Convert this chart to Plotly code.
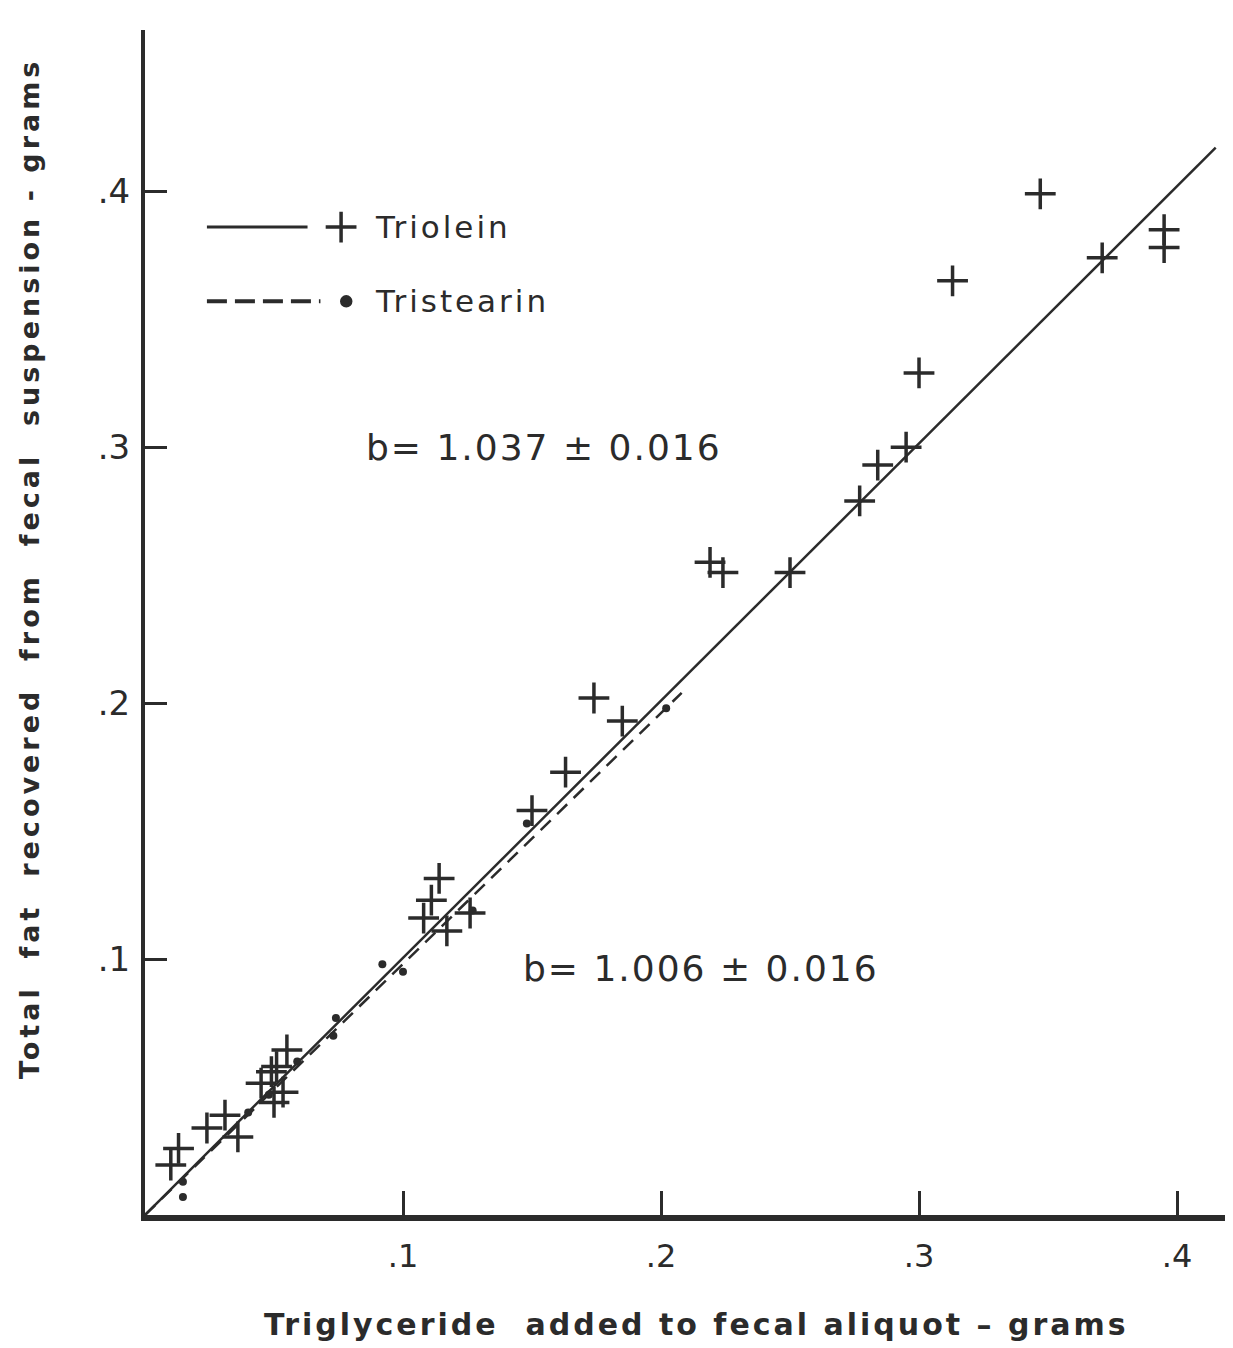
import plotly.graph_objects as go

# ---- data ----
triolein_x = [0.010, 0.013, 0.024, 0.031, 0.036, 0.045, 0.049, 0.050, 0.0535, 0.051, 0.055,
              0.108, 0.111, 0.114, 0.117, 0.126, 0.150, 0.163, 0.174, 0.185, 0.219,
              0.224, 0.250, 0.277, 0.284, 0.295, 0.300, 0.313, 0.347, 0.371, 0.395, 0.395]
triolein_y = [0.0195, 0.026, 0.034, 0.039, 0.0305, 0.0515, 0.056, 0.044, 0.048, 0.058, 0.0645,
              0.116, 0.123, 0.1315, 0.111, 0.118, 0.158, 0.173, 0.202, 0.193, 0.255,
              0.251, 0.251, 0.279, 0.293, 0.300, 0.329, 0.365, 0.399, 0.374, 0.385, 0.378]

tristearin_x = [0.0147, 0.0147, 0.040, 0.048, 0.059, 0.073, 0.074, 0.092, 0.100, 0.127, 0.148, 0.202]
tristearin_y = [0.007, 0.013, 0.040, 0.047, 0.060, 0.070, 0.077, 0.098, 0.095, 0.119, 0.153, 0.198]

triolein_fit_x = [0.0, 0.415]
triolein_fit_y = [0.0, 0.417]
tristearin_fit_x = [0.0, 0.208]
tristearin_fit_y = [0.0, 0.204]

tick_vals = [0.1, 0.2, 0.3, 0.4]
tick_text = [".1", ".2", ".3", ".4"]

ink = "#2b2b2b"
font_family = "DejaVu Sans"


def spaced(text, px):
    return '<span style="letter-spacing:%dpx">%s</span>' % (px, text)


fig = go.Figure()

fig.add_trace(go.Scatter(x=triolein_fit_x, y=triolein_fit_y, mode="lines",
                         line=dict(color=ink, width=2.5), showlegend=False))
fig.add_trace(go.Scatter(x=tristearin_fit_x, y=tristearin_fit_y, mode="lines",
                         line=dict(color=ink, width=2.5, dash="14px,9px"), showlegend=False))
fig.add_trace(go.Scatter(x=triolein_x, y=triolein_y, mode="markers",
                         marker=dict(symbol="cross-thin", size=22,
                                     line=dict(color=ink, width=3.5)),
                         showlegend=False))
fig.add_trace(go.Scatter(x=tristearin_x, y=tristearin_y, mode="markers",
                         marker=dict(symbol="circle", size=8, color=ink),
                         showlegend=False))

# legend drawn as shapes + text
legend_items = [("Triolein", "solid", "cross-thin", 0.386), ("Tristearin", "20px,8px", "circle", 0.357)]
for name, dash, sym, ly in legend_items:
    fig.add_shape(type="line", x0=0.024, x1=0.063 if dash == "solid" else 0.068,
                  y0=ly, y1=ly, line=dict(color=ink, width=3 if dash == "solid" else 4, dash=dash))
    fig.add_trace(go.Scatter(x=[0.076 if sym == "cross-thin" else 0.078], y=[ly], mode="markers",
                             showlegend=False,
                             marker=dict(symbol=sym, size=22 if sym == "cross-thin" else 9,
                                         color=ink, line=dict(color=ink, width=3.5))))
    fig.add_annotation(x=0.0885, y=ly, text=spaced(name, 3), showarrow=False, xanchor="left",
                       font=dict(family=font_family, size=31, color=ink))

fig.add_annotation(x=0.1545, y=0.300, text=spaced("b= 1.037 \u00b1 0.016", 2), showarrow=False,
                   xanchor="center", yanchor="middle",
                   font=dict(family=font_family, size=36, color=ink))
fig.add_annotation(x=0.2155, y=0.0965, text=spaced("b= 1.006 \u00b1 0.016", 2), showarrow=False,
                   xanchor="center", yanchor="middle",
                   font=dict(family=font_family, size=36, color=ink))

nb = "\u00a0"
fig.add_annotation(xref="paper", yref="paper", x=0.507, y=-0.0928,
                   xanchor="center", yanchor="middle",
                   text=spaced("Triglyceride" + nb * 2 + "added" + nb + "to" + nb + "fecal" + nb +
                               "aliquot" + nb + "\u2013" + nb + "grams", 3),
                   showarrow=False, font=dict(family=font_family, size=30, color=ink, weight="bold"))
fig.add_annotation(xref="paper", yref="paper", x=-0.1057, y=0.546, textangle=-90,
                   xanchor="center", yanchor="middle",
                   text=spaced("Total" + nb * 2 + "fat" + nb * 2 + "recovered" + nb * 2 + "from" + nb * 2 +
                               "fecal" + nb * 2 + "suspension" + nb + "-" + nb + "grams", 4),
                   showarrow=False, font=dict(family=font_family, size=27, color=ink, weight="bold"))

fig.update_xaxes(range=[0, 0.4217], tickvals=tick_vals, ticktext=tick_text,
                 ticks="inside", ticklen=24, tickwidth=3, tickcolor=ink,
                 showline=True, linewidth=6, linecolor=ink, showgrid=False, zeroline=False,
                 tickfont=dict(family=font_family, size=32, color=ink), ticklabelstandoff=8)
fig.update_yaxes(range=[0, 0.463], tickvals=tick_vals, ticktext=tick_text,
                 ticks="inside", ticklen=22, tickwidth=2.5, tickcolor=ink,
                 showline=True, linewidth=4, linecolor=ink, showgrid=False, zeroline=False,
                 tickfont=dict(family=font_family, size=34, color=ink), ticklabelstandoff=4)

fig.update_layout(width=1225, height=1340, plot_bgcolor="white", paper_bgcolor="white",
                  margin=dict(l=137, r=0, t=22, b=133), showlegend=False)

fig.write_html("out.html")
